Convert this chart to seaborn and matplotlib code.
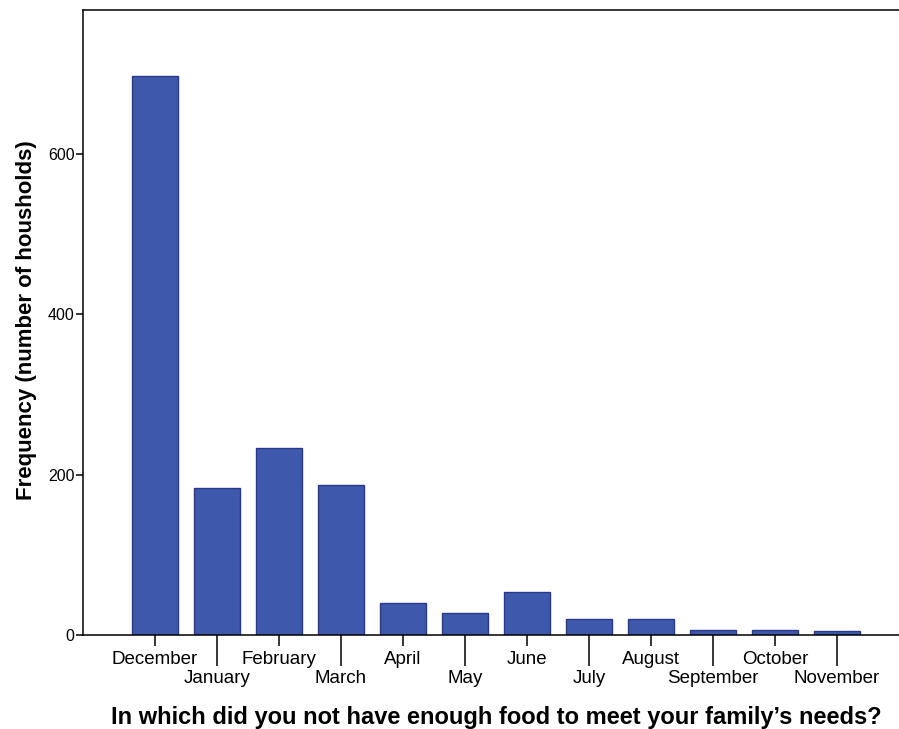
import matplotlib
matplotlib.use("Agg")
import matplotlib.pyplot as plt
import seaborn as sns

# values
months = ["December", "January", "February", "March", "April", "May",
          "June", "July", "August", "September", "October", "November"]
households = [698, 183, 233, 187, 40, 27, 54, 20, 20, 6, 6, 5]

sns.set_style("white")
plt.rcParams["font.family"] = ["Liberation Sans", "DejaVu Sans"]
plt.rcParams["text.color"] = "black"
plt.rcParams["axes.labelcolor"] = "black"
plt.rcParams["xtick.color"] = "black"
plt.rcParams["ytick.color"] = "black"

fig = plt.figure(figsize=(8.99, 7.29), dpi=100)
ax = fig.add_axes([83 / 899, 94 / 729, 1 - 83 / 899, (635 - 10) / 729])

sns.barplot(x=months, y=households, color="#3e58ac", edgecolor="#2a3889",
            linewidth=1.0, width=0.74, saturation=1, ax=ax)

ax.set_xlim(-1.16, 12.0)
ax.set_ylim(0, 780)

# alternate short/long ticks so the labels sit on two rows
even = list(range(0, 12, 2))
odd = list(range(1, 12, 2))
ax.set_xticks(even, [months[i] for i in even])
ax.set_xticks(odd, [months[i] for i in odd], minor=True)
ax.tick_params(axis="x", which="major", length=8, width=1.1, pad=3.5,
               labelsize=13.5, direction="out", bottom=True)
ax.tick_params(axis="x", which="minor", length=22, width=1.1, pad=3.5,
               labelsize=13.5, direction="out", bottom=True)

ax.set_yticks([0, 200, 400, 600])
ax.tick_params(axis="y", length=5, width=1.1, pad=1, labelsize=11.5,
               direction="out", left=True)

for side in ["left", "bottom", "top"]:
    ax.spines[side].set_visible(True)
    ax.spines[side].set_linewidth(1.1)
    ax.spines[side].set_color("black")
ax.spines["right"].set_visible(False)

ax.set_xlabel("In which did you not have enough food to meet your family\u2019s needs?",
              fontsize=17, fontweight="bold")
ax.set_ylabel("Frequency (number of housholds)", fontsize=16, fontweight="bold")
ax.xaxis.set_label_coords((496 - 83) / (899 - 83), -(706 - 635) / 625)
ax.yaxis.set_label_coords(-(83 - 37) / (899 - 83), (635 - 320) / 625)

fig.savefig("out.png", dpi=100)
